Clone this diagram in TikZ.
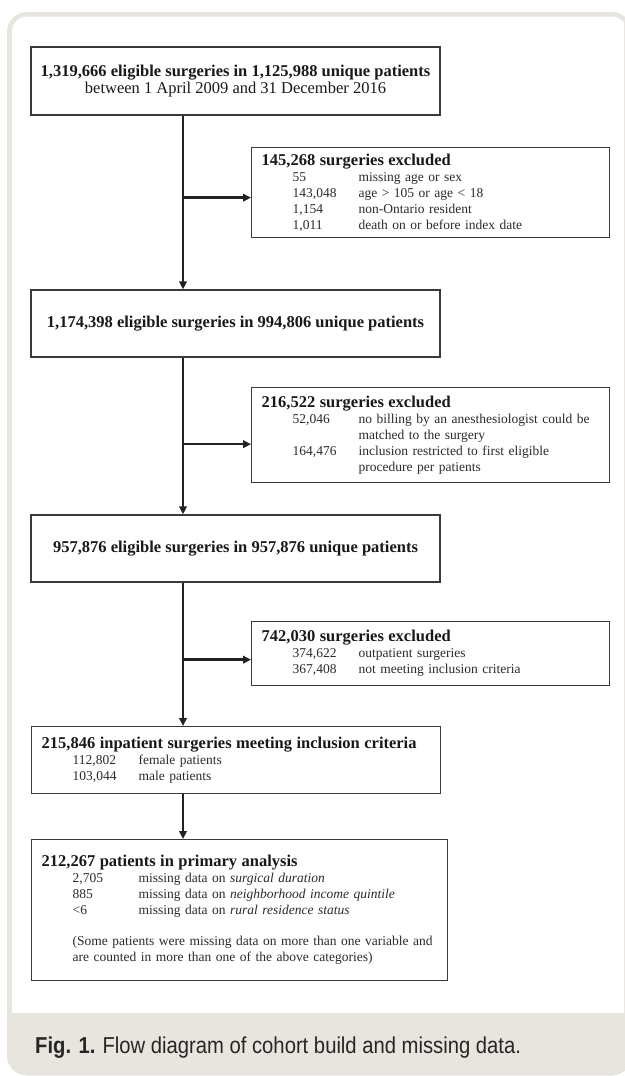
\documentclass[tikz,border=0pt]{standalone}
\usepackage{fontspec}
\setmainfont{Liberation Serif}
\newfontfamily\capfont[FakeStretch=0.88]{Liberation Sans}
\usetikzlibrary{arrows.meta}
\definecolor{framebeige}{HTML}{E8E5DE}
\definecolor{boxline}{HTML}{3A3A3A}
\definecolor{flowline}{HTML}{222222}
\definecolor{itemtext}{HTML}{2B2B2B}
\newcommand{\exrow}[2]{\hspace*{31pt}\makebox[66pt][l]{#1}#2}
\newcommand{\exhead}[1]{{\fontsize{16.5}{16}\selectfont\bfseries\color{black!90}#1}}

\begin{document}
\begin{tikzpicture}[x=1pt,y=-1pt,
  mainbox/.style={draw=boxline, line width=1.3pt, fill=white, inner sep=0pt, minimum width=409pt, minimum height=67pt, align=center, text=black!90, font=\fontsize{16.5}{16.5}\selectfont},
  exclbox/.style={draw=boxline, line width=1.3pt, fill=white, anchor=north west, inner xsep=10pt, inner ysep=0pt, align=left, text=itemtext, font=\fontsize{13.5}{16}\selectfont},
  flow/.style={draw=flowline, line width=2.6pt, -{Triangle[length=8pt,width=7.5pt]}}]
\useasboundingbox (0,0) rectangle (624,1076);

% frame and caption band
\fill[framebeige, rounded corners=20pt] (7,12) rectangle (632,1075.5);
\begin{scope}
\clip (0,0) rectangle (624,1012);
\fill[white, rounded corners=15pt] (12,16.5) rectangle (627,1040);
\end{scope}

\node[mainbox, minimum height=68pt] (b1) at (235.5,81) {\textbf{1,319,666 eligible surgeries in 1,125,988 unique patients}\\between 1 April 2009 and 31 December 2016};
\node[exclbox, text width=338pt, minimum height=90pt] (e1) at (251,147) {\exhead{145,268 surgeries excluded}\\
\exrow{55}{missing age or sex}\\
\exrow{143,048}{age > 105 or age < 18}\\
\exrow{1,154}{non-Ontario resident}\\
\exrow{1,011}{death on or before index date}};
\node[mainbox] (b2) at (235.5,323.5) {\textbf{1,174,398 eligible surgeries in 994,806 unique patients}};
\node[exclbox, text width=338pt, minimum height=95pt] (e2) at (251,387) {\exhead{216,522 surgeries excluded}\\
\exrow{52,046}{no billing by an anesthesiologist could be}\\
\exrow{}{matched to the surgery}\\
\exrow{164,476}{inclusion restricted to first eligible}\\
\exrow{}{procedure per patients}};
\node[mainbox] (b3) at (235.5,548.5) {\textbf{957,876 eligible surgeries in 957,876 unique patients}};
\node[exclbox, text width=338pt, minimum height=64pt] (e3) at (251,621) {\exhead{742,030 surgeries excluded}\\
\exrow{374,622}{outpatient surgeries}\\
\exrow{367,408}{not meeting inclusion criteria}};
\node[exclbox, text width=389pt, minimum height=67pt] (b4) at (31,726) {\exhead{215,846 inpatient surgeries meeting inclusion criteria}\\
\exrow{112,802}{female patients}\\
\exrow{103,044}{male patients}};
\node[exclbox, text width=396pt, minimum height=141pt] (b5) at (31,839) {\exhead{212,267 patients in primary analysis}\\
\exrow{2,705}{missing data on \textit{surgical duration}}\\
\exrow{885}{missing data on \textit{neighborhood income quintile}}\\
\exrow{<6}{missing data on \textit{rural residence status}}\\[15pt]
\hspace*{31pt}(Some patients were missing data on more than one variable and\\
\hspace*{31pt}are counted in more than one of the above categories)};

\node[anchor=west, inner sep=0pt, text=black!85, font=\capfont\fontsize{23}{23}\selectfont] (cap) at (35,1048) {\textbf{Fig. 1.}\hspace{7pt}Flow diagram of cohort build and missing data.};

% flow
\coordinate (sp) at (183,0);
\path[flow] (b1.south -| sp) -- (b2.north -| sp);
\path[flow] (b2.south -| sp) -- (b3.north -| sp);
\path[flow] (b3.south -| sp) -- (b4.north -| sp);
\path[flow] (b4.south -| sp) -- (b5.north -| sp);
\path[flow] ([yshift=-5pt]e1.west -| sp) -- ([yshift=-5pt]e1.west);
\path[flow] ([yshift=-9pt]e2.west -| sp) -- ([yshift=-9pt]e2.west);
\path[flow] ([yshift=-6pt]e3.west -| sp) -- ([yshift=-6pt]e3.west);
\end{tikzpicture}
\end{document}
